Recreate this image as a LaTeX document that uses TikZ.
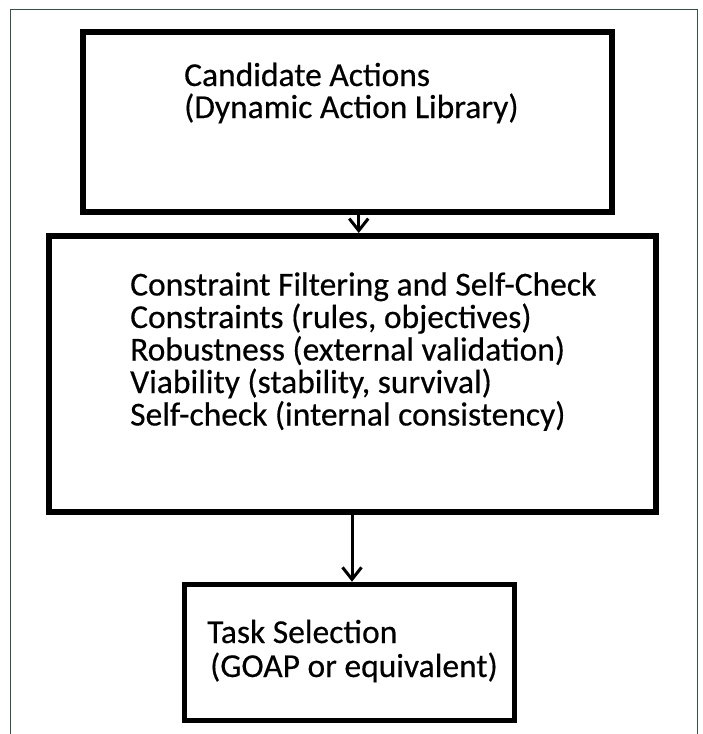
\documentclass[tikz,border=0pt]{standalone}
\usepackage{fontspec}
\setmainfont[FakeBold=0.4]{Carlito}
\usetikzlibrary{arrows.meta}

\definecolor{framegray}{RGB}{62,78,72}

\tikzset{
	blockbox/.style={draw=black, line width=6pt, inner sep=0pt},
	boxtext/.style={anchor=base west, inner sep=0pt, font=\fontsize{33.5}{39.5}\selectfont},
	flowarrow/.style={line width=3pt, -{Straight Barb[length=12pt,width=19pt]}}
}

\begin{document}
\begin{tikzpicture}[x=1pt, y=-1pt]

	\useasboundingbox (0,0) rectangle (702,734);
	\draw[framegray, line width=1.2pt] (10.5,745) -- (10.5,9.5) -- (697.5,9.5) -- (697.5,745);

	% boxes
	\node[blockbox, minimum width=529.5pt, minimum height=180pt] (cand) at (347.25,121.5) {};
	\node[blockbox, minimum width=607pt, minimum height=276pt] (chk) at (352.5,374) {};
	\node[blockbox, line width=5.5pt, minimum width=330pt, minimum height=136pt] (task) at (349.5,652.5) {};

	% texts
	\node[boxtext] (cand1) at (184,86) {Candidate Actions};
	\node[boxtext] (cand2) at (184,118) {(Dynamic Action Library)};

	\foreach \t [count=\i] in {Constraint Filtering and Self-Check,
		Constraints (rules{,} objectives),
		Robustness (external validation),
		Viability (stability{,} survival),
		Self-check (internal consistency)}
		\node[boxtext] (chk\i) at (130,263+32.5*\i) {\t};

	\node[boxtext] (task1) at (207,643) {Task Selection};
	\node[boxtext] (task2) at (210,677) {(GOAP or equivalent)};

	% arrows
	\draw[flowarrow] ([xshift=11.5pt]cand.south) -- ([xshift=11.5pt]cand.south |- chk.north);
	\draw[flowarrow] ([xshift=-0.5pt]chk.south) -- ([xshift=-0.5pt]chk.south |- task.north);

\end{tikzpicture}
\end{document}
